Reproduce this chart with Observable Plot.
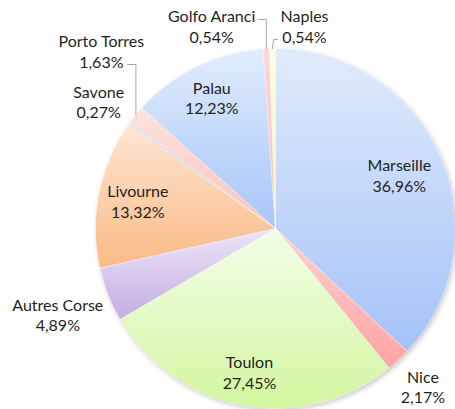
<!DOCTYPE html>
<html>
<head>
<meta charset="utf-8">
<script src="https://cdn.jsdelivr.net/npm/d3@7"></script>
<script src="https://cdn.jsdelivr.net/npm/@observablehq/plot@0.6"></script>
<style>
  html, body { margin: 0; padding: 0; background: #fff; }
  #chart svg { display: block; }
  #chart g[aria-label="dot"] circle { filter: blur(2.5px); }
</style>
</head>
<body>
<div id="chart"></div>
<script>
// ---- data ----
const ports = ["Marseille", "Nice", "Toulon", "Autres Corse", "Livourne", "Savone", "Porto Torres", "Palau", "Golfo Aranci", "Naples"];
const shares = [36.96, 2.17, 27.45, 4.89, 13.32, 0.27, 1.63, 12.23, 0.54, 0.54];
const colorTop = ["#e1ebfc", "#ffd2d2", "#f3fde8", "#ece5f8", "#fee6d3", "#dfe6ef", "#fde2de", "#e1ecfc", "#fdd8d8", "#fafde2"];
const colorBottom = ["#a5c3f8", "#ffa3a3", "#d4f6a0", "#c4ade3", "#fbba86", "#bfcad8", "#fbc2ba", "#a6c6fa", "#fbb9b9", "#eef8b5"];

// ---- layout (label placement, leader lines) ----
const labelLayout = [[null, 0.75], [null, 1.2], [null, 0.81], [null, 1.30], [null, 0.78], [null, 1.21], [315.6, 1.383], [null, 0.81], [342.5, 1.18], [8.15, 1.137]];
const leaderLayout = {
  "Porto Torres": [[null, 0.911], [-0.822, 0.911]],
  "Golfo Aranci": [[null, 1.161], [-0.094, 1.161]],
  "Naples": [[-0.011, 1.05], [0.011, 1.05]]
};

const total = d3.sum(shares);
const polar = (a, k) => ({x: k * Math.sin(a), y: k * Math.cos(a)});

// slice polygons
const slices = [];
const labels = [];
const leaders = [];
let cum = 0;
ports.forEach((name, i) => {
  const a0 = cum / total * 2 * Math.PI;
  cum += shares[i];
  const a1 = cum / total * 2 * Math.PI;
  const n = Math.max(2, Math.ceil((a1 - a0) / (Math.PI / 360)));
  const grad = `url(#g${i})`;
  slices.push({name, grad, x: 0, y: 0});
  for (let j = 0; j <= n; j++) {
    const p = polar(a0 + (a1 - a0) * j / n, 1);
    slices.push({name, grad, x: p.x, y: p.y});
  }
  slices.push({name, grad, x: 0, y: 0});
  const mid = (a0 + a1) / 2;
  const [ang, k] = labelLayout[i];
  const la = ang == null ? mid : ang * Math.PI / 180;
  const lp = polar(la, k);
  labels.push({name, x: lp.x, y: lp.y, text: `${name}\n${shares[i].toFixed(2).replace(".", ",")}%`});
  if (leaderLayout[name]) {
    const s = polar(mid, 1);
    const [[ex, ey], [fx, fy]] = leaderLayout[name];
    leaders.push({name, x: s.x, y: s.y});
    leaders.push({name, x: ex == null ? s.x : ex, y: ey});
    leaders.push({name, x: fx, y: fy});
  }
});

const defs = () => {
  const g = d3.create("svg:defs");
  ports.forEach((_, i) => {
    const lg = g.append("linearGradient").attr("id", `g${i}`).attr("x1", 0).attr("y1", 0).attr("x2", 0).attr("y2", 1);
    lg.append("stop").attr("offset", "0%").attr("stop-color", colorTop[i]);
    lg.append("stop").attr("offset", "100%").attr("stop-color", colorBottom[i]);
  });
  return g.node();
};

const chart = Plot.plot({
  width: 455,
  height: 409,
  margin: 0,
  x: {domain: [-1, 1], range: [95, 455], axis: null},
  y: {domain: [-1, 1], range: [408, 48], axis: null},
  color: {type: "identity"},
  style: {fontFamily: "Lato, 'Open Sans', sans-serif", background: "#fff"},
  marks: [
    defs,
    Plot.dot([{x: 0, y: 0}], {x: "x", y: "y", r: 180, fill: "#000", fillOpacity: 0.22, stroke: "none", dx: 1.5, dy: 2}),
    Plot.line(slices, {x: "x", y: "y", z: "name", fill: "grad", stroke: "#ffffff", strokeWidth: 0.6, strokeOpacity: 0.7, curve: "linear"}),
    Plot.line(leaders, {x: "x", y: "y", z: "name", stroke: "#a6a6a6", strokeWidth: 1}),
    Plot.text(labels, {x: "x", y: "y", text: "text", fontSize: 16, lineHeight: 1.3, fill: "#1f1f1f"})
  ]
});
document.getElementById("chart").appendChild(chart);
</script>
</body>
</html>
